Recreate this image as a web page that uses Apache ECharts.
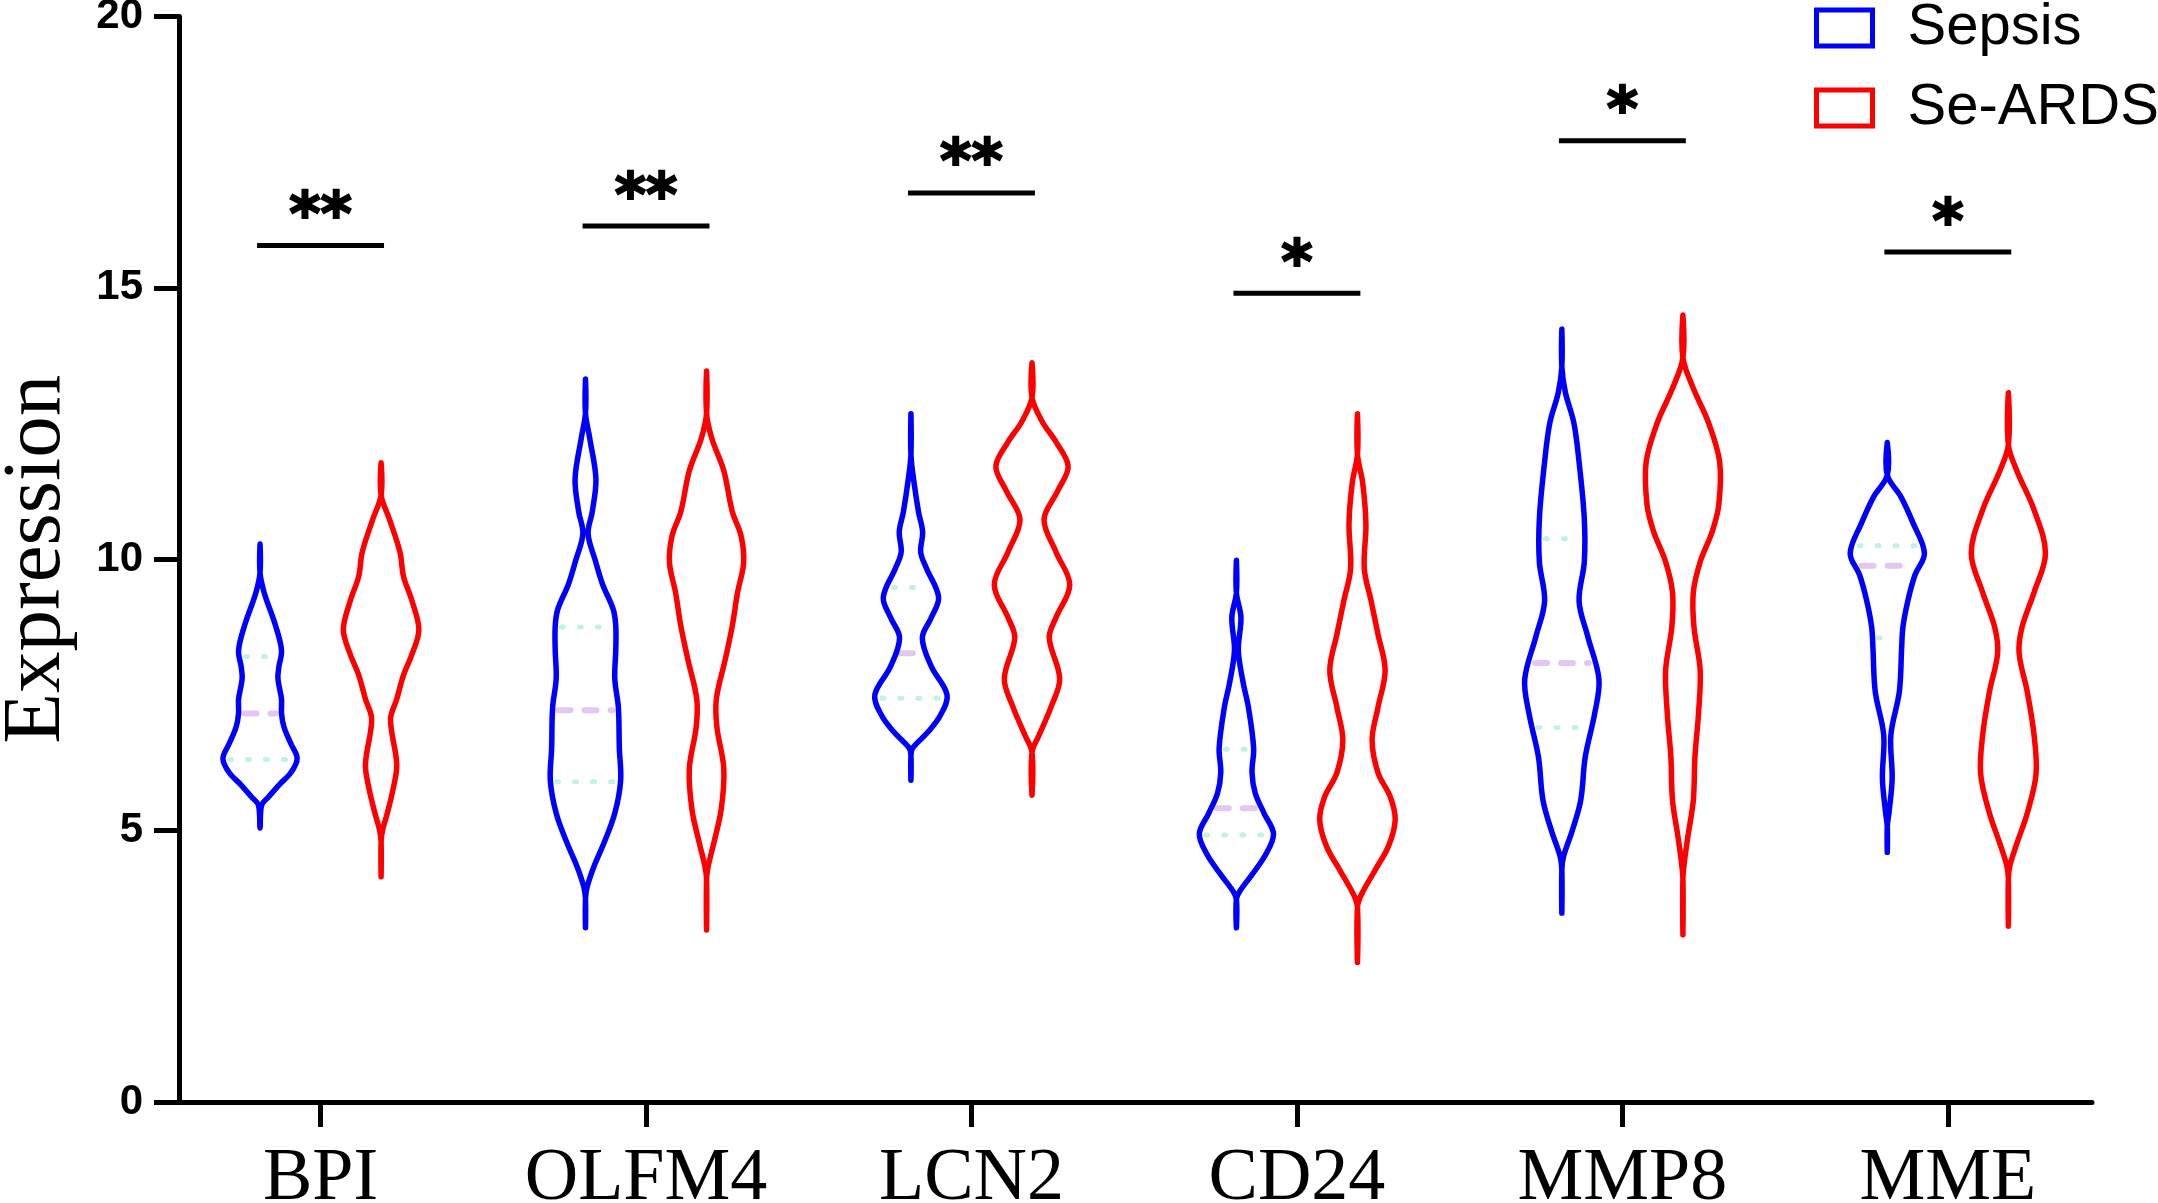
<!DOCTYPE html>
<html>
<head>
<meta charset="utf-8">
<title>Expression violin</title>
<script src="https://cdn.jsdelivr.net/npm/echarts@6/dist/echarts.min.js"></script>
<style>
    html, body {margin:0; padding:0; background:#fff;}
    #ChartMain {width:2158px; height:1203px;}
</style>
</head>
<body>
<div id="ChartMain"></div>
<script type="text/javascript">
    // genes on the x axis
    var categories = ['BPI', 'OLFM4', 'LCN2', 'CD24', 'MMP8', 'MME'];
    var groups = ['Sepsis', 'Se-ARDS'];

    // violin outlines: [expression, half width in category units], top to bottom
    var sepsisBPI = [[10.28,0],[9.75,0],[9.38,0.013],[8.77,0.048],[8.32,0.066],[8.02,0.058],[7.80,0.055],[7.42,0.066],[7.16,0.066],[6.90,0.074],[6.60,0.095],[6.33,0.114],[6.07,0.095],[5.84,0.058],[5.62,0.026],[5.47,0.005],[5.05,0]];
    var sepsisOLFM4 = [[13.32,0],[12.69,0],[12.23,0.013],[11.48,0.032],[10.88,0.021],[10.47,0.008],[9.98,0.030],[9.53,0.053],[9.08,0.085],[8.77,0.093],[8.32,0.093],[7.80,0.090],[7.27,0.101],[6.52,0.104],[5.92,0.108],[5.32,0.090],[4.79,0.058],[4.34,0.026],[3.96,0.005],[3.74,0],[3.21,0]];
    var sepsisLCN2 = [[12.68,0],[11.93,0],[11.48,0.008],[10.88,0.023],[10.50,0.036],[10.13,0.030],[9.83,0.048],[9.30,0.085],[8.93,0.063],[8.55,0.035],[8.02,0.063],[7.50,0.111],[7.12,0.090],[6.82,0.053],[6.52,0.005],[6.37,0],[5.93,0]];
    var sepsisCD24 = [[9.98,0],[9.38,0],[8.93,0.014],[8.32,0.006],[7.72,0.021],[7.27,0.037],[6.52,0.053],[6.07,0.048],[5.69,0.058],[5.32,0.085],[4.94,0.114],[4.56,0.090],[4.19,0.048],[3.89,0.011],[3.74,0],[3.21,0]];
    var sepsisMMP8 = [[14.24,0],[13.55,0],[13.07,0.011],[12.51,0.037],[11.79,0.053],[10.75,0.069],[9.95,0.069],[9.23,0.053],[8.59,0.079],[7.79,0.114],[7.16,0.101],[6.36,0.072],[5.56,0.058],[5.00,0.032],[4.52,0.005],[4.28,0],[3.48,0]];
    var sepsisMME = [[12.15,0],[11.55,0],[11.15,0.042],[10.67,0.079],[10.11,0.114],[9.71,0.085],[9.23,0.063],[8.75,0.048],[8.35,0.044],[7.56,0.037],[6.76,0.011],[5.96,0.015],[5.32,0.005],[5.08,0],[4.60,0]];

    var ardsBPI = [[11.78,0],[11.18,0],[10.73,0.026],[10.13,0.058],[9.68,0.069],[9.23,0.095],[8.70,0.116],[8.25,0.095],[7.87,0.069],[7.42,0.048],[7.05,0.029],[6.22,0.048],[5.77,0.037],[5.32,0.019],[5.02,0.005],[4.79,0],[4.15,0]];
    var ardsOLFM4 = [[13.47,0],[12.69,0],[12.23,0.016],[11.63,0.053],[10.88,0.079],[10.43,0.106],[9.94,0.114],[9.38,0.095],[8.77,0.079],[8.17,0.058],[7.42,0.030],[6.90,0.032],[6.14,0.053],[5.39,0.045],[4.79,0.023],[4.34,0.005],[4.11,0],[3.17,0]];
    var ardsLCN2 = [[13.62,0],[12.98,0],[12.53,0.032],[12.16,0.074],[11.71,0.111],[11.26,0.079],[10.73,0.037],[10.13,0.074],[9.53,0.116],[8.93,0.074],[8.55,0.053],[7.80,0.085],[7.27,0.058],[6.75,0.021],[6.44,0],[5.65,0]];
    var ardsCD24 = [[12.68,0],[11.93,0],[11.41,0.016],[10.65,0.026],[9.83,0.021],[9.23,0.042],[8.62,0.063],[7.95,0.085],[7.27,0.063],[6.67,0.045],[6.07,0.063],[5.62,0.101],[5.20,0.116],[4.71,0.095],[4.26,0.053],[3.81,0.011],[3.59,0],[2.57,0]];
    var ardsMMP8 = [[14.50,0],[13.71,0],[13.15,0.032],[12.51,0.079],[11.79,0.113],[10.99,0.110],[10.51,0.090],[9.95,0.053],[9.39,0.032],[8.75,0.034],[7.96,0.053],[7.16,0.048],[6.36,0.037],[5.56,0.032],[4.92,0.016],[4.44,0.005],[4.12,0],[3.08,0]];
    var ardsMME = [[13.07,0],[12.11,0],[11.63,0.026],[10.91,0.079],[10.11,0.114],[9.39,0.079],[8.75,0.042],[8.27,0.033],[7.56,0.058],[6.76,0.079],[6.04,0.085],[5.32,0.058],[4.76,0.026],[4.36,0.005],[4.12,0],[3.24,0]];

    var sepsisProfiles = [sepsisBPI, sepsisOLFM4, sepsisLCN2, sepsisCD24, sepsisMMP8, sepsisMME];
    var ardsProfiles = [ardsBPI, ardsOLFM4, ardsLCN2, ardsCD24, ardsMMP8, ardsMME];

    // quartiles drawn inside the Sepsis violins
    var sepsisQ1 = [6.31, 5.90, 7.44, 4.92, 6.90, 8.55];
    var sepsisMedian = [7.16, 7.22, 8.27, 5.41, 8.09, 9.88];
    var sepsisQ3 = [8.21, 8.75, 9.48, 6.50, 10.38, 10.25];

    // significance brackets
    var sigLevel = [15.78, 16.14, 16.75, 14.90, 17.71, 15.66];
    var sigMarks = ['**', '**', '**', '*', '*', '*'];

    var tickValues = [1, 2, 3, 4, 5, 6];
    var OFFSET = 0.186;

    function halfWidthAt(profile, v) {
        for (var k = 0; k < profile.length - 1; k++) {
            var a = profile[k], b = profile[k + 1];
            if (v <= a[0] && v >= b[0]) {
                var t = (a[0] - v) / (a[0] - b[0]);
                return a[1] + (b[1] - a[1]) * t;
            }
        }
        return 0;
    }

    function violinRenderer(profiles, offset, color) {
        return function (params, api) {
            var i = api.value(1);
            var cx = api.value(0) + offset;
            var prof = profiles[i];
            var pts = [];
            for (var k = 0; k < prof.length; k++) {
                pts.push(api.coord([cx + prof[k][1], prof[k][0]]));
            }
            for (var k2 = prof.length - 2; k2 > 0; k2--) {
                pts.push(api.coord([cx - prof[k2][1], prof[k2][0]]));
            }
            return {
                type: 'polygon',
                shape: {points: pts, smooth: 0.35},
                style: {fill: 'none', stroke: color, lineWidth: 5.5, lineJoin: 'round'}
            };
        };
    }

    function quartileRenderer(params, api) {
        var i = api.value(1);
        var cx = api.value(0) - OFFSET;
        var prof = sepsisProfiles[i];
        var items = [[sepsisQ1[i], 'q'], [sepsisMedian[i], 'm'], [sepsisQ3[i], 'q']];
        var children = items.map(function (it) {
            var hw = halfWidthAt(prof, it[0]);
            var p1 = api.coord([cx - hw, it[0]]);
            var p2 = api.coord([cx + hw, it[0]]);
            var med = it[1] === 'm';
            return {
                type: 'line',
                shape: {x1: p1[0] + 6, y1: p1[1], x2: p2[0] - 6, y2: p2[1]},
                style: {
                    stroke: med ? '#e4c6f3' : '#c4f2e2',
                    lineWidth: med ? 6 : 5,
                    lineDash: med ? [12, 14] : [2, 16],
                    lineCap: 'round'
                }
            };
        });
        return {type: 'group', children: children};
    }

    function sigRenderer(params, api) {
        var i = params.dataIndex;
        var x = api.value(0), y = api.value(1);
        var p1 = api.coord([x - 0.195, y]);
        var p2 = api.coord([x + 0.195, y]);
        return {
            type: 'group',
            children: [
                {type: 'line', shape: {x1: p1[0], y1: p1[1], x2: p2[0], y2: p2[1]},
                 style: {stroke: '#000', lineWidth: 5}},
                {type: 'text', x: (p1[0] + p2[0]) / 2, y: p1[1] - 26,
                 style: {text: sigMarks[i], fontSize: 60, fontWeight: 'bold', fontFamily: 'DejaVu Sans',
                         fill: '#000', stroke: '#000', lineWidth: 2,
                         align: 'center', verticalAlign: 'middle'}}
            ]
        };
    }

    var idxData = categories.map(function (c, i) { return [i + 1, i]; });

    var myChart = echarts.init(document.getElementById('ChartMain'), null, {renderer: 'canvas'});
    var option = {
        animation: false,
        backgroundColor: '#fff',
        grid: {left: 179, right: 66, top: 16.5, bottom: 101, containLabel: false, outerBoundsMode: 'none'},
        legend: {
            orient: 'vertical',
            left: 1809,
            top: -6,
            itemWidth: 56,
            itemHeight: 36,
            itemGap: 22,
            selectedMode: false,
            textStyle: {fontFamily: 'Liberation Sans', fontSize: 58, color: '#000', padding: [0, 0, 0, 30]},
            data: [
                {name: 'Sepsis', icon: 'rect', itemStyle: {color: 'rgba(0,0,0,0)', borderColor: '#0000ff', borderWidth: 5}},
                {name: 'Se-ARDS', icon: 'rect', itemStyle: {color: 'rgba(0,0,0,0)', borderColor: '#ff0000', borderWidth: 5}}
            ]
        },
        xAxis: {
            type: 'value',
            min: 0.565,
            max: 6.443,
            splitLine: {show: false},
            axisLine: {lineStyle: {color: '#000', width: 5}},
            axisTick: {show: true, customValues: tickValues, length: 25, lineStyle: {color: '#000', width: 5}},
            axisLabel: {
                customValues: tickValues,
                margin: 41,
                fontFamily: 'Liberation Serif',
                fontSize: 74,
                color: '#000',
                formatter: function (v) { return categories[Math.round(v) - 1] || ''; }
            }
        },
        yAxis: {
            type: 'value',
            min: 0,
            max: 20,
            interval: 5,
            name: 'Expression',
            nameLocation: 'middle',
            nameGap: 100,
            nameTextStyle: {fontFamily: 'Liberation Serif', fontSize: 83, color: '#000'},
            splitLine: {show: false},
            axisLine: {show: true, lineStyle: {color: '#000', width: 5}},
            axisTick: {show: true, length: 25, lineStyle: {color: '#000', width: 5}},
            axisLabel: {margin: 36, fontFamily: 'Liberation Sans', fontWeight: 'bold', fontSize: 42, color: '#000'}
        },
        series: [
            {name: 'quartiles', type: 'custom', renderItem: quartileRenderer, data: idxData,
             encode: {x: 0, y: 1}, z: 1, silent: true},
            {name: groups[0], type: 'custom', renderItem: violinRenderer(sepsisProfiles, -OFFSET, '#0000ff'),
             data: idxData, encode: {x: 0, y: 1}, itemStyle: {color: '#0000ff'}, z: 2, silent: true},
            {name: groups[1], type: 'custom', renderItem: violinRenderer(ardsProfiles, OFFSET, '#ff0000'),
             data: idxData, encode: {x: 0, y: 1}, itemStyle: {color: '#ff0000'}, z: 2, silent: true},
            {name: 'significance', type: 'custom', renderItem: sigRenderer,
             data: categories.map(function (c, i) { return [i + 1, sigLevel[i]]; }),
             encode: {x: 0, y: 1}, z: 3, silent: true}
        ]
    };
    myChart.setOption(option);
</script>
</body>
</html>
